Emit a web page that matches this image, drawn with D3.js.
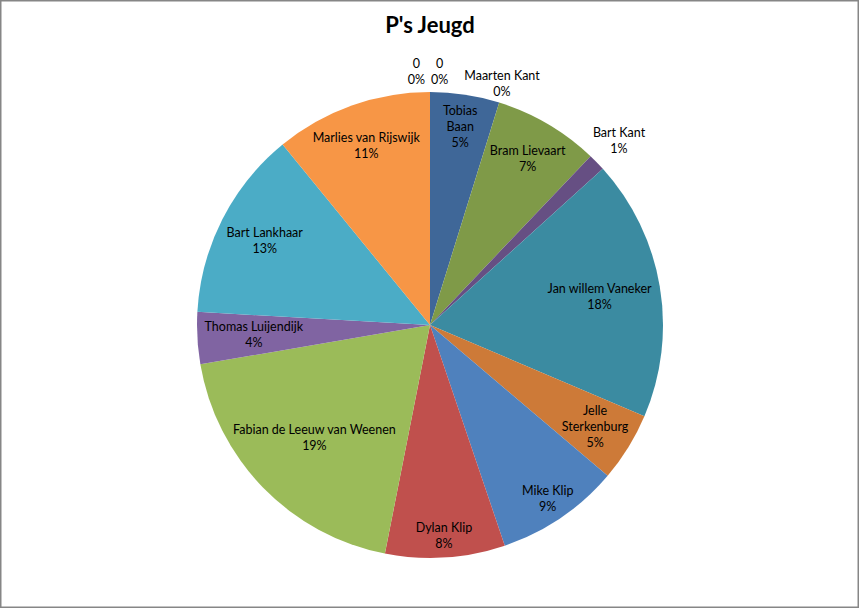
<!DOCTYPE html>
<html>
<head>
<meta charset="utf-8">
<script src="https://cdn.jsdelivr.net/npm/d3@7"></script>
<style>
  html, body { margin: 0; padding: 0; background: #fff; }
  svg { display: block; }
  text { font-family: Lato, "Open Sans", "DejaVu Sans", sans-serif; }
</style>
</head>
<body>
<svg id="chart" width="860" height="609"></svg>
<script>
// ---- data (clockwise from 12 o'clock) ----
const title = "P's Jeugd";
const categories = ["Maarten Kant", "Tobias Baan", "Bram Lievaart", "Bart Kant", "Jan willem Vaneker",
  "Jelle Sterkenburg", "Mike Klip", "Dylan Klip", "Fabian de Leeuw van Weenen", "Thomas Luijendijk",
  "Bart Lankhaar", "Marlies van Rijswijk", "0", "0"];
const values = [0, 4.8, 7.3, 1.2, 18.1, 4.8, 8.6, 8.3, 19.2, 3.6, 13.2, 10.9, 0, 0];
const colors = ["#9A3E3B", "#3F6798", "#7F9A48", "#664F83", "#3B8BA1", "#CD7A38", "#4F81BD",
  "#C0504D", "#9BBB59", "#8064A2", "#4BACC6", "#F79646", "#3F6798", "#9A3E3B"];
const wrappedNames = ["Tobias Baan", "Jelle Sterkenburg"];

// ---- layout ----
const W = 860, H = 609;
const cx = 430, cy = 325, R = 233;
const fontSize = 12.5, lineH = 16, margin = 7;

const svg = d3.select("#chart");
svg.append("rect").attr("x", 0.75).attr("y", 0.75).attr("width", W - 2.5).attr("height", H - 2.5)
  .attr("fill", "#fff").attr("stroke", "#868686").attr("stroke-width", 1.5);

svg.append("text").attr("x", cx).attr("y", 33).attr("text-anchor", "middle")
  .attr("font-size", 22).attr("font-weight", "bold").attr("fill", "#000").text(title);

const data = categories.map((c, i) => ({ name: c, value: values[i], color: colors[i], idx: i }));
const total = d3.sum(values);
const pct = d3.format(".0%");

const pie = d3.pie().sort(null).value(d => d.value).startAngle(0).endAngle(2 * Math.PI);
const arcs = pie(data);
const arc = d3.arc().innerRadius(0).outerRadius(R);

const g = svg.append("g").attr("transform", `translate(${cx},${cy})`);
g.selectAll("path.slice").data(arcs.filter(a => a.data.value > 0)).join("path")
  .attr("class", "slice").attr("d", arc).attr("fill", a => a.data.color);

// labels
const lg = g.append("g");
function linesFor(d) {
  const nameLines = wrappedNames.includes(d.name) ? d.name.split(" ") : [d.name];
  return nameLines.concat([pct(d.value / total)]);
}
function makeLabel(d) {
  const t = lg.append("text").attr("font-size", fontSize).attr("fill", "#000").attr("text-anchor", "middle");
  const lines = linesFor(d);
  const n = lines.length;
  const tspans = lines.map((s, k) => t.append("tspan").attr("x", 0)
    .attr("y", (k - (n - 1) / 2) * lineH).attr("dy", "0.35em").text(s));
  const widths = tspans.map(ts => ts.node().getComputedTextLength());
  return { t, tspans, widths, n };
}
function fits(x, y, L) {
  for (let k = 0; k < L.n; k++) {
    const yk = y + (k - (L.n - 1) / 2) * lineH;
    const hw = L.widths[k] / 2;
    for (const px of [x - hw, x + hw]) for (const py of [yk - 6, yk + 6]) {
      if (Math.hypot(px, py) > R - margin) return false;
    }
  }
  return true;
}
function setPos(L, x, y) {
  L.tspans.forEach((ts, k) => ts.attr("x", x).attr("y", y + (k - (L.n - 1) / 2) * lineH));
}

const startZeros = [], endZeros = [];
arcs.forEach(a => {
  const d = a.data;
  const L = makeLabel(d);
  const mid = (a.startAngle + a.endAngle) / 2;
  const ux = Math.sin(mid), uy = -Math.cos(mid);
  if (d.value === 0) {
    (a.startAngle < Math.PI ? startZeros : endZeros).push(L);
  } else if (d.value / total < 0.02) {
    const r = R + 31;
    setPos(L, ux * r, uy * r);
  } else {
    let r = R;
    while (r > 0 && !fits(ux * r, uy * r, L)) r -= 0.5;
    setPos(L, ux * r, uy * r);
  }
});
// zero-value labels at the top: end zeros side by side centred on top, start zeros to their right
const gap = 6;
const ew = endZeros.map(L => d3.max(L.widths));
const groupW = d3.sum(ew) + gap * Math.max(0, endZeros.length - 1);
let xc = -2 - groupW / 2;
endZeros.forEach((L, i) => { setPos(L, xc + ew[i] / 2, -(R + 20)); xc += ew[i] + gap; });
xc += 10;
startZeros.forEach(L => { const w = d3.max(L.widths); setPos(L, xc + w / 2, -(R + 8)); xc += w + gap; });
</script>
</body>
</html>
